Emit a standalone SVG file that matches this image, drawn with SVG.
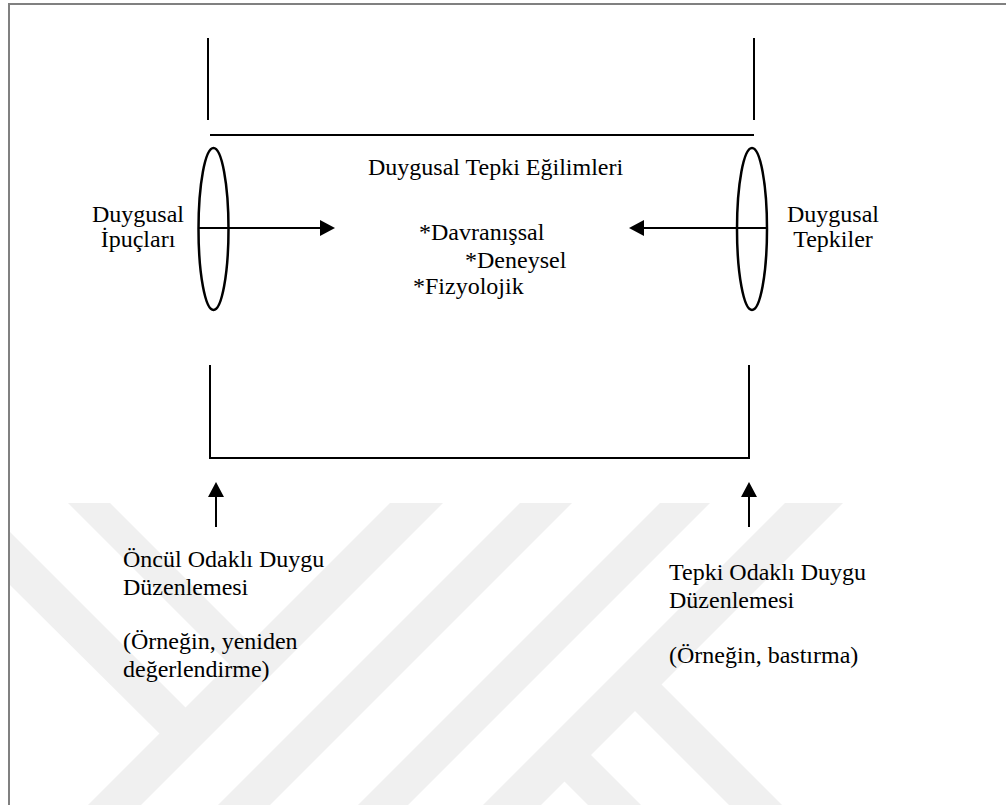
<svg xmlns="http://www.w3.org/2000/svg" width="1006" height="805" viewBox="0 0 1006 805">
  <style>
    .t { font-family: 'Liberation Serif', 'Tinos', 'Times New Roman', 'DejaVu Serif', serif; font-size: 24px; fill: #000; }
    .ln { stroke: #000; stroke-width: 2; fill: none; }
    .el { stroke: #000; stroke-width: 2.5; fill: none; }
    .wm { fill: #f0f0f0; stroke: none; }
  </style>
  <defs>
    <marker id="ah" viewBox="0 0 15 16" refX="0" refY="8" markerWidth="15" markerHeight="16" markerUnits="userSpaceOnUse" orient="auto">
      <path d="M0,0 L15,8 L0,16 z" fill="#000"/>
    </marker>
  </defs>
  <rect x="0" y="0" width="1006" height="805" fill="#fff"/>

  <g id="watermark">
    <polygon class="wm" points="9,531 190,712 164,738 9,584"/>
    <polygon class="wm" points="390,503 443,503 141,805 88,805"/>
    <polygon class="wm" points="68,503 110,503 255,648 234,669"/>
    <polygon class="wm" points="520,503 572,503 270,805 218,805"/>
    <polygon class="wm" points="660,503 710,503 408,805 358,805"/>
    <polygon class="wm" points="785,503 843,503 541,805 483,805"/>
    <polygon class="wm" points="658,681 782,805 729,805 632,708"/>
    <polygon class="wm" points="588,752 641,805 588,805 563,780"/>
  </g>

  <path d="M9,805 V4 H1006" stroke="#808080" stroke-width="2" fill="none"/>

  <g id="connectors">
    <line class="ln" x1="208" y1="38" x2="208" y2="120"/>
    <line class="ln" x1="754" y1="38" x2="754" y2="120"/>
    <line class="ln" x1="210" y1="135" x2="754" y2="135"/>
    <line class="ln" x1="210" y1="365" x2="210" y2="458"/>
    <line class="ln" x1="749" y1="365" x2="749" y2="458"/>
    <line class="ln" x1="209" y1="458" x2="750" y2="458"/>
    <line class="ln" x1="199" y1="228" x2="320" y2="228" marker-end="url(#ah)"/>
    <line class="ln" x1="767" y1="228" x2="644" y2="228" marker-end="url(#ah)"/>
    <line class="ln" x1="216" y1="527" x2="216" y2="497" marker-end="url(#ah)"/>
    <line class="ln" x1="749" y1="527" x2="749" y2="497" marker-end="url(#ah)"/>
  </g>

  <g id="node-ipuclari">
    <ellipse class="el" cx="213.5" cy="229" rx="15" ry="81"/>
    <text class="t" x="138" y="222" text-anchor="middle">Duygusal</text>
    <text class="t" x="138" y="247" text-anchor="middle">İpuçları</text>
  </g>

  <g id="node-tepkiler">
    <ellipse class="el" cx="752" cy="229" rx="15" ry="81"/>
    <text class="t" x="833" y="222" text-anchor="middle">Duygusal</text>
    <text class="t" x="833" y="247" text-anchor="middle">Tepkiler</text>
  </g>

  <g id="node-egilimler">
    <text class="t" x="368" y="175">Duygusal Tepki Eğilimleri</text>
    <text class="t" x="419" y="240">*Davranışsal</text>
    <text class="t" x="465" y="268">*Deneysel</text>
    <text class="t" x="413" y="294">*Fizyolojik</text>
  </g>

  <g id="node-oncul">
    <text class="t" x="123" y="567">Öncül Odaklı Duygu</text>
    <text class="t" x="123" y="595">Düzenlemesi</text>
    <text class="t" x="123" y="649">(Örneğin, yeniden</text>
    <text class="t" x="123" y="677">değerlendirme)</text>
  </g>

  <g id="node-tepki">
    <text class="t" x="669" y="580">Tepki Odaklı Duygu</text>
    <text class="t" x="669" y="608">Düzenlemesi</text>
    <text class="t" x="669" y="663">(Örneğin, bastırma)</text>
  </g>
</svg>
